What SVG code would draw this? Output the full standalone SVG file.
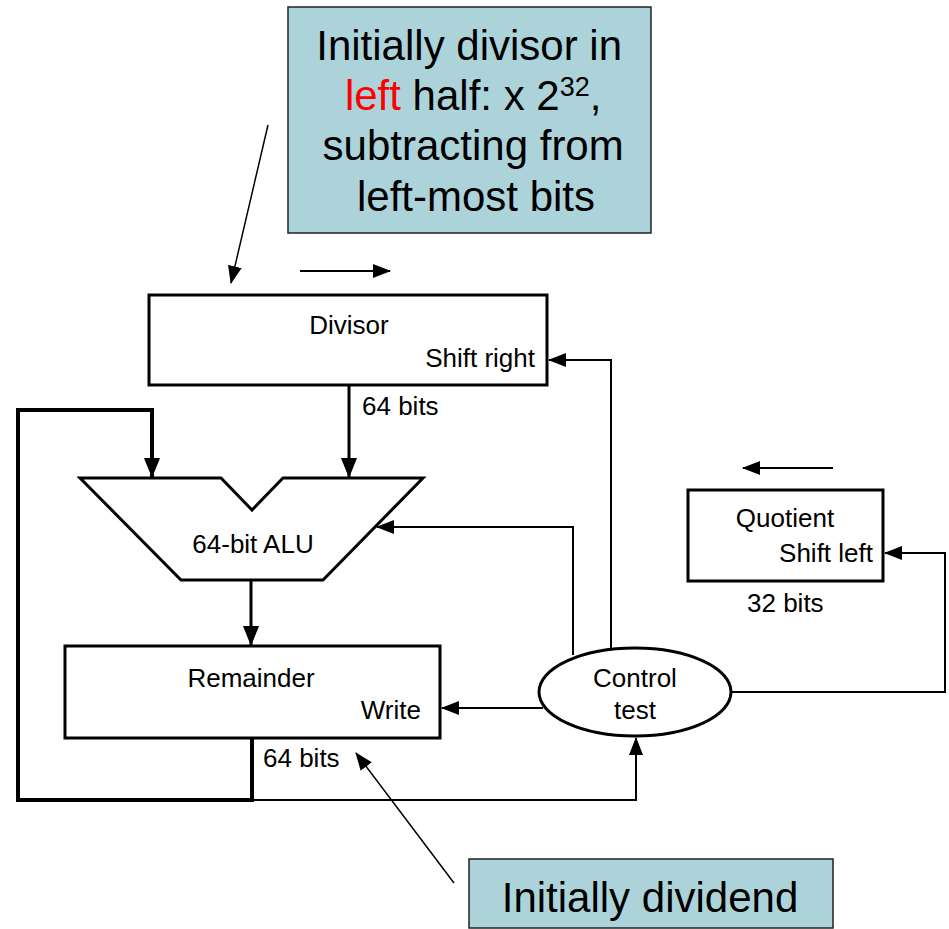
<svg xmlns="http://www.w3.org/2000/svg" width="949" height="929" viewBox="0 0 949 929">
  <style>
    .box { fill: #ffffff; stroke: #000; stroke-width: 3; }
    .note { fill: #add3da; stroke: #222; stroke-width: 1.5; }
    .lbl { font-family: "Liberation Sans", Arial, sans-serif; font-size: 26px; fill: #000; }
    .big { font-family: "Liberation Sans", Arial, sans-serif; font-size: 42px; fill: #000; }
    .wire { fill: none; stroke: #000; stroke-width: 2; }
    .bus { fill: none; stroke: #000; stroke-width: 3; }
    .thick { fill: none; stroke: #000; stroke-width: 4; }
    .ptr { fill: none; stroke: #000; stroke-width: 1.5; }
  </style>
  <defs>
    <marker id="ah" markerUnits="userSpaceOnUse" markerWidth="18" markerHeight="14" refX="17" refY="7" orient="auto">
      <path d="M0,0 L18,7 L0,14 Z" fill="#000"/>
    </marker>
    <marker id="ahBig" markerUnits="userSpaceOnUse" markerWidth="20" markerHeight="16" refX="19" refY="8" orient="auto">
      <path d="M0,0 L20,8 L0,16 Z" fill="#000"/>
    </marker>
  </defs>

  <!-- annotation: divisor placement -->
  <g id="note-divisor">
    <rect class="note" x="288" y="7" width="363" height="226"/>
    <text class="big" text-anchor="middle">
      <tspan x="475" y="60">Initially divisor in</tspan>
      <tspan x="479" y="110"><tspan fill="#ff0000">left</tspan> half: x 2<tspan font-size="27" dy="-14">32</tspan><tspan dy="14">,</tspan></tspan>
      <tspan x="479" y="160">subtracting from</tspan>
      <tspan x="476" y="211">left-most bits</tspan>
    </text>
  </g>

  <!-- annotation: dividend placement -->
  <g id="note-dividend">
    <rect class="note" x="469" y="859" width="364" height="69"/>
    <text class="big" x="650" y="912" text-anchor="middle">Initially dividend</text>
  </g>

  <!-- Divisor register -->
  <g id="divisor">
    <rect class="box" x="149" y="295" width="398" height="90"/>
    <text class="lbl" x="349" y="334" text-anchor="middle">Divisor</text>
    <text class="lbl" x="535" y="367" text-anchor="end">Shift right</text>
  </g>

  <!-- ALU -->
  <g id="alu">
    <polygon points="80,478 221,478 252,510 283,478 423,478 323,580 181,580" fill="#fff" stroke="#000" stroke-width="3" stroke-linejoin="miter"/>
    <text class="lbl" x="253" y="553" text-anchor="middle">64-bit ALU</text>
  </g>

  <!-- Remainder register -->
  <g id="remainder">
    <rect class="box" x="65" y="646" width="375" height="92"/>
    <text class="lbl" x="251" y="687" text-anchor="middle">Remainder</text>
    <text class="lbl" x="421" y="719" text-anchor="end">Write</text>
  </g>

  <!-- Quotient register -->
  <g id="quotient">
    <rect class="box" x="688" y="490" width="195" height="91"/>
    <text class="lbl" x="785" y="527" text-anchor="middle">Quotient</text>
    <text class="lbl" x="873" y="562" text-anchor="end">Shift left</text>
  </g>

  <!-- Control unit -->
  <g id="control">
    <ellipse cx="635" cy="692" rx="96" ry="44" fill="#fff" stroke="#000" stroke-width="3"/>
    <text class="lbl" x="635" y="687" text-anchor="middle">Control</text>
    <text class="lbl" x="635" y="719" text-anchor="middle">test</text>
  </g>

  <!-- width labels -->
  <g id="widths">
    <text class="lbl" x="362" y="415">64 bits</text>
    <text class="lbl" x="263" y="767">64 bits</text>
    <text class="lbl" x="747" y="612">32 bits</text>
  </g>

  <g id="connectors">
    <!-- shift direction hints -->
    <line class="wire" x1="300" y1="271" x2="390" y2="271" marker-end="url(#ah)"/>
    <line class="wire" x1="833" y1="468" x2="743" y2="468" marker-end="url(#ah)"/>

    <!-- datapath -->
    <line class="bus" x1="349" y1="385" x2="349" y2="477" marker-end="url(#ahBig)"/>
    <path class="thick" d="M252,738 V800 H18 V410 H152 V477" marker-end="url(#ahBig)"/>
    <line class="bus" x1="251" y1="580" x2="251" y2="645" marker-end="url(#ahBig)"/>
    <path class="wire" d="M252,800 H636 V738" marker-end="url(#ah)"/>

    <!-- control signals -->
    <path class="wire" d="M573,655 V527 H377" marker-end="url(#ah)"/>
    <path class="wire" d="M611,649 V360 H549" marker-end="url(#ah)"/>
    <line class="wire" x1="543" y1="708" x2="442" y2="708" marker-end="url(#ah)"/>
    <path class="wire" d="M731,692 H945 V553 H885" marker-end="url(#ah)"/>

    <!-- annotation pointers -->
    <line class="ptr" x1="268" y1="125" x2="231" y2="283" marker-end="url(#ah)"/>
    <line class="ptr" x1="454" y1="883" x2="356" y2="753" marker-end="url(#ah)"/>
  </g>
</svg>
